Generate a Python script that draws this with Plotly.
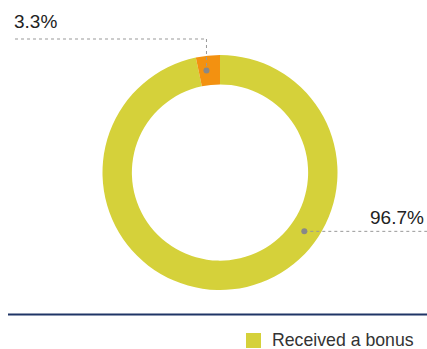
import math
import plotly.graph_objects as go

# ---- data ----
labels = ["Received a bonus", "Did not receive a bonus"]
values = [96.7, 3.3]
text_labels = ["96.7%", "3.3%"]
colors = ["#D5D13A", "#F39110"]
legend_label = "Received a bonus"

W, H = 427, 349
cx, cy, R = 220.0, 172.5, 117.5
hole = 0.75

def px(x):
    return x / W

def py(y):
    return 1 - y / H

fig = go.Figure()
fig.add_trace(go.Pie(
    labels=labels, values=values, sort=False, direction="clockwise", rotation=0,
    hole=hole, marker=dict(colors=colors, line=dict(width=0)),
    textinfo="none", hoverinfo="label+percent", showlegend=False,
    domain=dict(x=[px(cx - R), px(cx + R)], y=[py(cy + R), py(cy - R)]),
))

# anchor positions along ring, as fraction clockwise from top
anchor_frac = [0.347, 0.979]
rm = R * (1 + hole) / 2
shapes = []
annotations = []
grey = "#999999"
label_font = dict(size=19, color="#222222", family="Liberation Sans")
for i, f in enumerate(anchor_frac):
    ang = 2 * math.pi * f
    ax = cx + rm * math.sin(ang)
    ay = cy - rm * math.cos(ang)
    if i == 1:
        ly = 39
        shapes.append(dict(type="line", xref="paper", yref="paper", x0=px(15), x1=px(ax), y0=py(ly), y1=py(ly),
                           line=dict(color=grey, width=1, dash="dot")))
        shapes.append(dict(type="line", xref="paper", yref="paper", x0=px(ax), x1=px(ax), y0=py(ly), y1=py(ay),
                           line=dict(color=grey, width=1, dash="dot")))
        annotations.append(dict(x=px(12), y=py(22), xref="paper", yref="paper", text=text_labels[i],
                                showarrow=False, xanchor="left", yanchor="middle", font=label_font))
    else:
        shapes.append(dict(type="line", xref="paper", yref="paper", x0=px(ax), x1=1, y0=py(ay), y1=py(ay),
                           line=dict(color=grey, width=1, dash="dot")))
        annotations.append(dict(x=px(426), y=py(ay - 14), xref="paper", yref="paper", text=text_labels[i],
                                showarrow=False, xanchor="right", yanchor="middle", font=label_font))
    shapes.append(dict(type="circle", xref="paper", yref="paper",
                       x0=px(ax - 3), x1=px(ax + 3), y0=py(ay + 3), y1=py(ay - 3),
                       fillcolor="#888888", line=dict(width=0)))

# navy separator line
shapes.append(dict(type="line", xref="paper", yref="paper", x0=px(8), x1=1, y0=py(314.5), y1=py(314.5),
                   line=dict(color="#1F3566", width=2)))

# legend (drawn manually so it does not push the margins)
shapes.append(dict(type="rect", xref="paper", yref="paper", x0=px(246), x1=px(261), y0=py(348), y1=py(333),
                   fillcolor=colors[0], line=dict(width=0)))
annotations.append(dict(x=px(270), y=py(340), xref="paper", yref="paper", text=legend_label,
                        showarrow=False, xanchor="left", yanchor="middle",
                        font=dict(size=17.7, color="#333333", family="Liberation Sans")))

fig.update_layout(
    width=W, height=H, margin=dict(l=0, r=0, t=0, b=0),
    paper_bgcolor="white", plot_bgcolor="white",
    shapes=shapes, annotations=annotations,
    showlegend=False,
)

fig.write_html("out.html")
